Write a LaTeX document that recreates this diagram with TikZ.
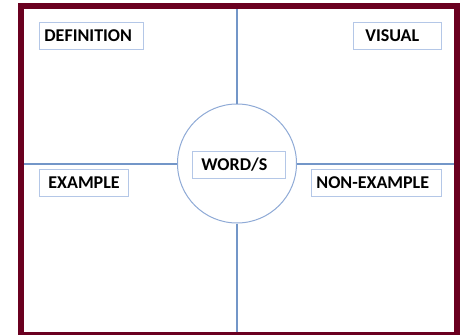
\documentclass[tikz,border=0pt]{standalone}
\usepackage{fontspec}
\setmainfont{Carlito}
\usepackage{tikz}
\definecolor{maroon}{RGB}{106,0,32}
\definecolor{lineblue}{RGB}{115,150,200}
\definecolor{circleblue}{RGB}{143,170,214}
\definecolor{boxblue}{RGB}{180,199,231}
\tikzstyle{frame} = [draw=maroon, line width=6pt]
\tikzstyle{divider} = [draw=lineblue, line width=2pt]
\tikzstyle{hub} = [draw=circleblue, fill=white, circle, line width=1pt, minimum size=119pt, inner sep=0pt]
\tikzstyle{tag} = [draw=boxblue, fill=white, line width=0.8pt, anchor=west, align=left, minimum height=27pt, inner ysep=0pt, font={\bfseries\fontsize{18}{20}\selectfont}]
\begin{document}
\begin{tikzpicture}[x=1pt,y=-1pt]
    \useasboundingbox (0,0) rectangle (464,335);
    \coordinate (top) at (237,6);
    \coordinate (bottom) at (237,334.5);
    \coordinate (left) at (21,163.5);
    \coordinate (right) at (456.5,163.5);
    \node[hub](hub) at (237,163.5){};
    \draw[divider](top)--(hub.north);
    \draw[divider](hub.south)--(bottom);
    \draw[divider](left)--(hub.west);
    \draw[divider](hub.east)--(right);
    \draw[frame] (21,6) rectangle (456.5,334.5);
    \node[tag,text width=94pt,inner xsep=5pt](def) at (39,35.5){DEFINITION};
    \node[tag,text width=64pt,inner xsep=12pt](vis) at (353,35.5){VISUAL};
    \node[tag,text width=71pt,inner xsep=9pt](ex) at (39,182.5){EXAMPLE};
    \node[tag,text width=75pt,inner xsep=9pt](word) at (192,165){WORD/S};
    \node[tag,text width=120pt,inner xsep=5pt](nonex) at (311,183){NON-EXAMPLE};
  \end{tikzpicture}
\end{document}
